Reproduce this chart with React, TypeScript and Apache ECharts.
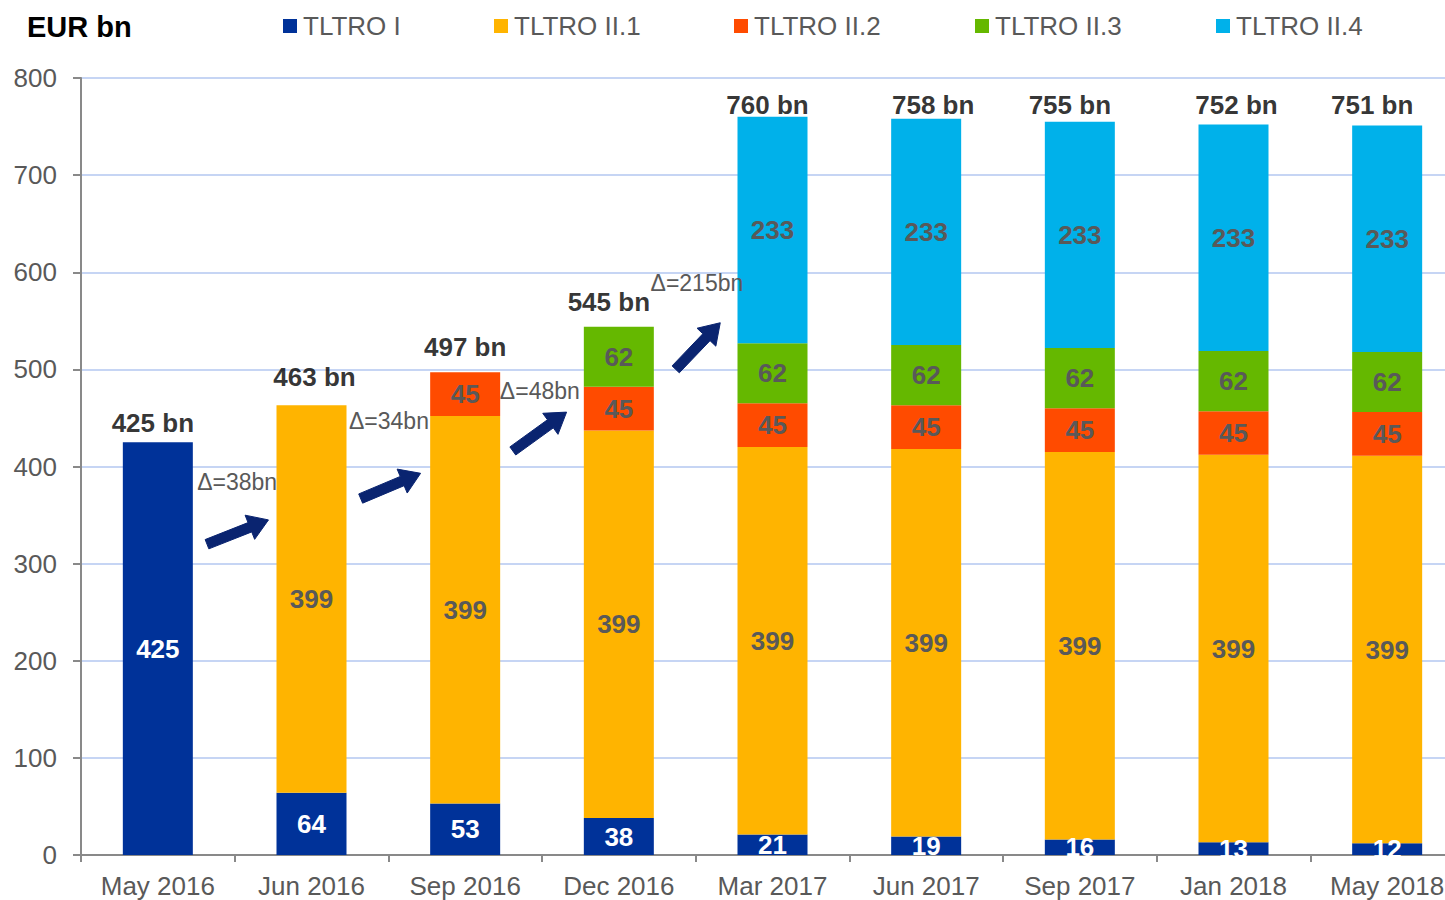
import React, { useEffect, useRef } from "react";
import * as echarts from "echarts";

const categories = ["May 2016", "Jun 2016", "Sep 2016", "Dec 2016", "Mar 2017", "Jun 2017", "Sep 2017", "Jan 2018", "May 2018"];
const tltroI = [425, 64, 53, 38, 21, 19, 16, 13, 12];
const tltroII1 = [0, 399, 399, 399, 399, 399, 399, 399, 399];
const tltroII2 = [0, 0, 45, 45, 45, 45, 45, 45, 45];
const tltroII3 = [0, 0, 0, 62, 62, 62, 62, 62, 62];
const tltroII4 = [0, 0, 0, 0, 233, 233, 233, 233, 233];
const totals = [425, 463, 497, 545, 760, 758, 755, 752, 751];
const yTicks = { min: 0, max: 800, interval: 100 };

// Annotation arrows: [category position, value] in data space
const deltaArrows = [
  { from: [0.32, 320], to: [0.72, 345], text: "\u0394=38bn", at: [0.516, 384] },
  { from: [1.32, 367], to: [1.71, 393], text: "\u0394=34bn", at: [1.504, 447] },
  { from: [2.31, 416], to: [2.66, 456], text: "\u0394=48bn", at: [2.486, 478] },
  { from: [3.37, 500], to: [3.66, 548], text: "\u0394=215bn", at: [3.508, 589] },
];

// label offsets for totals (style only)
const totalLabelOffset = [[-5, -19], [3, -28], [0, -25], [-10, -24], [-5, -12], [7, -14], [-10, -17], [3, -20], [-15, -21]];

const FONT = "'Liberation Sans', Arial, sans-serif";
const GREY = "#595959";
const AXIS = "#898989";
const colors = ["#003299", "#FFB400", "#FF4B00", "#65B800", "#00B1EA"];
const names = ["TLTRO I", "TLTRO II.1", "TLTRO II.2", "TLTRO II.3", "TLTRO II.4"];
const legendLefts = [283, 494, 734, 975, 1216];

export default function App() {
  const ref = useRef<HTMLDivElement>(null);
  useEffect(() => {
    if (!ref.current) return;
    const chart = echarts.init(ref.current, undefined, { renderer: "svg" });
    const seriesData = [tltroI, tltroII1, tltroII2, tltroII3, tltroII4];
    const barSeries = seriesData.map((d, i) => ({
      name: names[i],
      type: "bar",
      stack: "total",
      barWidth: 70,
      data: d,
      itemStyle: { color: colors[i] },
      label: {
        show: true,
        position: "inside",
        fontFamily: FONT,
        fontSize: 26,
        fontWeight: "bold",
        color: i === 0 ? "#ffffff" : GREY,
        formatter: (p: any) => (p.value ? String(p.value) : ""),
      },
      emphasis: { disabled: true },
    }));
    const totalSeries = {
      name: "total",
      type: "scatter",
      symbolSize: 0,
      silent: true,
      z: 10,
      data: totals.map((v, i) => ({
        value: v,
        label: { offset: totalLabelOffset[i] },
      })),
      label: {
        show: true,
        position: "inside",
        fontFamily: FONT,
        fontSize: 26,
        fontWeight: "bold",
        color: "#000000",
        formatter: (p: any) => `${p.value} bn`,
      },
    };
    chart.setOption({
      animation: false,
      title: {
        text: "EUR bn",
        left: 27,
        top: 12,
        padding: 0,
        textStyle: { fontFamily: FONT, fontSize: 29, fontWeight: "bold", color: "#000" },
      },
      legend: names.map((n, i) => ({
        data: [n],
        left: legendLefts[i],
        top: 13,
        padding: 0,
        icon: "rect",
        itemWidth: 14,
        itemHeight: 14,
        selectedMode: false,
        textStyle: { fontFamily: FONT, fontSize: 26, color: GREY, padding: [0, 0, 0, 1] },
      })),
      grid: { left: 81, right: 0, top: 78, bottom: 45, containLabel: false },
      xAxis: {
        type: "category",
        data: categories,
        axisLine: { lineStyle: { color: AXIS, width: 2 } },
        axisTick: { show: true, length: 7, lineStyle: { color: AXIS, width: 2 } },
        axisLabel: { fontFamily: FONT, fontSize: 26, color: GREY, margin: 18 },
      },
      yAxis: {
        type: "value",
        min: yTicks.min,
        max: yTicks.max,
        interval: yTicks.interval,
        axisLine: { show: true, lineStyle: { color: AXIS, width: 2 } },
        axisTick: { show: true, length: 8, lineStyle: { color: AXIS, width: 2 } },
        axisLabel: { fontFamily: FONT, fontSize: 26, color: GREY, margin: 24 },
        splitLine: { lineStyle: { color: "#C6D5F4", width: 2 } },
      },
      series: [...barSeries, totalSeries],
    });

    const p0 = chart.convertToPixel({ xAxisIndex: 0 }, 0) as number;
    const p1 = chart.convertToPixel({ xAxisIndex: 0 }, 1) as number;
    const step = p1 - p0;
    const toPx = (pt: number[]) => [p0 + pt[0] * step, chart.convertToPixel({ yAxisIndex: 0 }, pt[1]) as number];

    const graphics: any[] = [];
    deltaArrows.forEach((a) => {
      const [tx, ty] = toPx(a.from);
      const [hx, hy] = toPx(a.to);
      const dx = hx - tx, dy = hy - ty;
      const len = Math.hypot(dx, dy);
      const ux = dx / len, uy = dy / len;
      const nx = -uy, ny = ux;
      const sw = 5, hw = 13, hl = 20;
      const neckX = hx - ux * hl, neckY = hy - uy * hl;
      const pts = [
        [tx + nx * sw, ty + ny * sw],
        [neckX + nx * sw, neckY + ny * sw],
        [neckX + nx * hw, neckY + ny * hw],
        [hx, hy],
        [neckX - nx * hw, neckY - ny * hw],
        [neckX - nx * sw, neckY - ny * sw],
        [tx - nx * sw, ty - ny * sw],
      ];
      graphics.push({
        type: "polygon",
        shape: { points: pts },
        style: { fill: "#0A2470", stroke: "#0A2470", lineWidth: 1 },
        z: 20,
      });
      const [lx, ly] = toPx(a.at);
      graphics.push({
        type: "text",
        x: lx,
        y: ly,
        z: 20,
        style: {
          text: a.text,
          fill: GREY,
          font: `23px ${FONT}`,
          align: "center",
          verticalAlign: "middle",
        },
      });
    });
    chart.setOption({ graphic: graphics });

    return () => chart.dispose();
  }, []);
  return (
    <div style={{ position: "absolute", left: 0, top: 0, width: 1445, height: 900, overflow: "hidden", background: "#fff" }}>
      <div ref={ref} style={{ width: 1464, height: 900 }} />
    </div>
  );
}
